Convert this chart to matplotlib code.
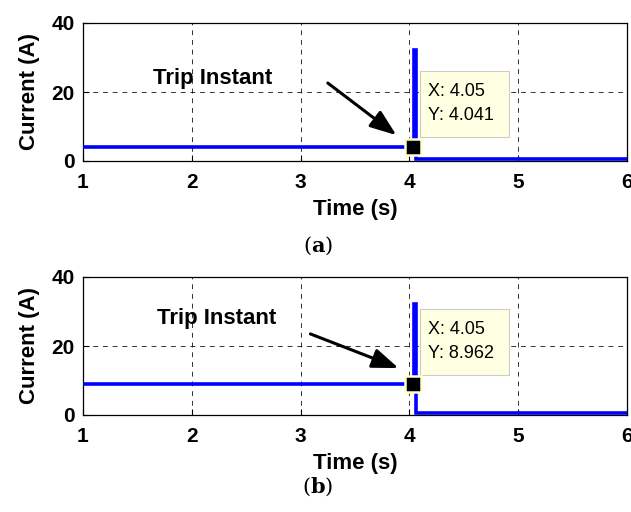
import matplotlib
matplotlib.use("Agg")
import matplotlib.pyplot as plt

plt.rcParams["mathtext.fontset"] = "dejavuserif"

# ---- data ----
time_pts = [1.0, 4.04, 4.045, 4.045, 4.06, 4.06, 6.0]
current_a = [4.041, 4.041, 4.041, 32.3, 32.3, 0.5, 0.5]
current_b = [8.962, 8.962, 8.962, 32.3, 32.3, 0.5, 0.5]
trip_x = 4.05
trip_y = [4.041, 8.962]
captions = [r"$(\mathbf{a})$", r"$(\mathbf{b})$"]
x_ticks = [1, 2, 3, 4, 5, 6]
y_ticks = [0, 20, 40]

# annotation placements (data coords) per panel
text_pos = [(2.19, 24.0), (2.23, 28.1)]
arrow_from = [(3.25, 22.6), (3.09, 23.5)]
arrow_to = [(3.88, 7.5), (3.90, 13.6)]
box_pos = [(4.10, 7.0, 0.815, 19.1), (4.10, 11.6, 0.815, 19.1)]

font = ["Liberation Sans", "DejaVu Sans"]

fig = plt.figure(figsize=(6.31, 5.12), dpi=100)
W, H = 631.0, 512.0
axes_px = [(83, 23, 627, 161), (83, 277, 627, 415)]
caption_y = [246, 487]

for i, (l, t, r, b) in enumerate(axes_px):
    ax = fig.add_axes([l / W, 1 - b / H, (r - l) / W, (b - t) / H])
    y = current_a if i == 0 else current_b
    ax.plot(time_pts, y, color="#0000FF", lw=2.6, solid_joinstyle="miter", zorder=3)
    ax.set_xlim(1, 6)
    ax.set_ylim(0, 40)
    ax.set_xticks(x_ticks)
    ax.set_yticks(y_ticks)
    ax.grid(True, color="black", ls=(0, (5, 5)), lw=0.7, alpha=0.8)
    ax.tick_params(direction="in", length=4, width=0.8, pad=6)
    ax.tick_params(axis="x", pad=9)
    for lab in ax.get_xticklabels() + ax.get_yticklabels():
        lab.set_family(font)
        lab.set_fontweight("bold")
        lab.set_fontsize(15)
    for s in ax.spines.values():
        s.set_linewidth(0.9)
    ax.set_xlabel("Time (s)", family=font, fontweight="bold", fontsize=16, labelpad=5)
    ax.set_ylabel("Current (A)", family=font, fontweight="bold", fontsize=16, labelpad=8)

    # datatip box
    bx, by, bw, bh = box_pos[i]
    ax.add_patch(plt.Rectangle((bx, by), bw, bh, facecolor="#FFFFE1",
                               edgecolor="#CCCCCC", lw=0.8, zorder=4))
    ax.text(bx + 0.075, by + bh * 0.69, "X: %.2f" % trip_x, fontsize=13,
            family=font, va="center", ha="left", zorder=5)
    ax.text(bx + 0.075, by + bh * 0.33, "Y: %.3f" % trip_y[i], fontsize=13,
            family=font, va="center", ha="left", zorder=5)
    ax.plot([trip_x - 0.02], [trip_y[i]], marker="s", ms=11, mfc="black",
            mec="#FFFFD0", mew=1.8, zorder=6)

    ax.text(*text_pos[i], "Trip Instant", family=font, fontweight="bold",
            fontsize=16, ha="center", va="center", zorder=5)
    ax.annotate("", xy=arrow_to[i], xytext=arrow_from[i],
                arrowprops=dict(arrowstyle="-|>,head_length=1.6,head_width=0.6",
                                color="black", lw=2.2, shrinkA=0, shrinkB=0),
                zorder=5)

    fig.text(318 / W, 1 - caption_y[i] / H, captions[i], fontsize=15,
             ha="center", va="center")

fig.savefig("out.png", dpi=100)
